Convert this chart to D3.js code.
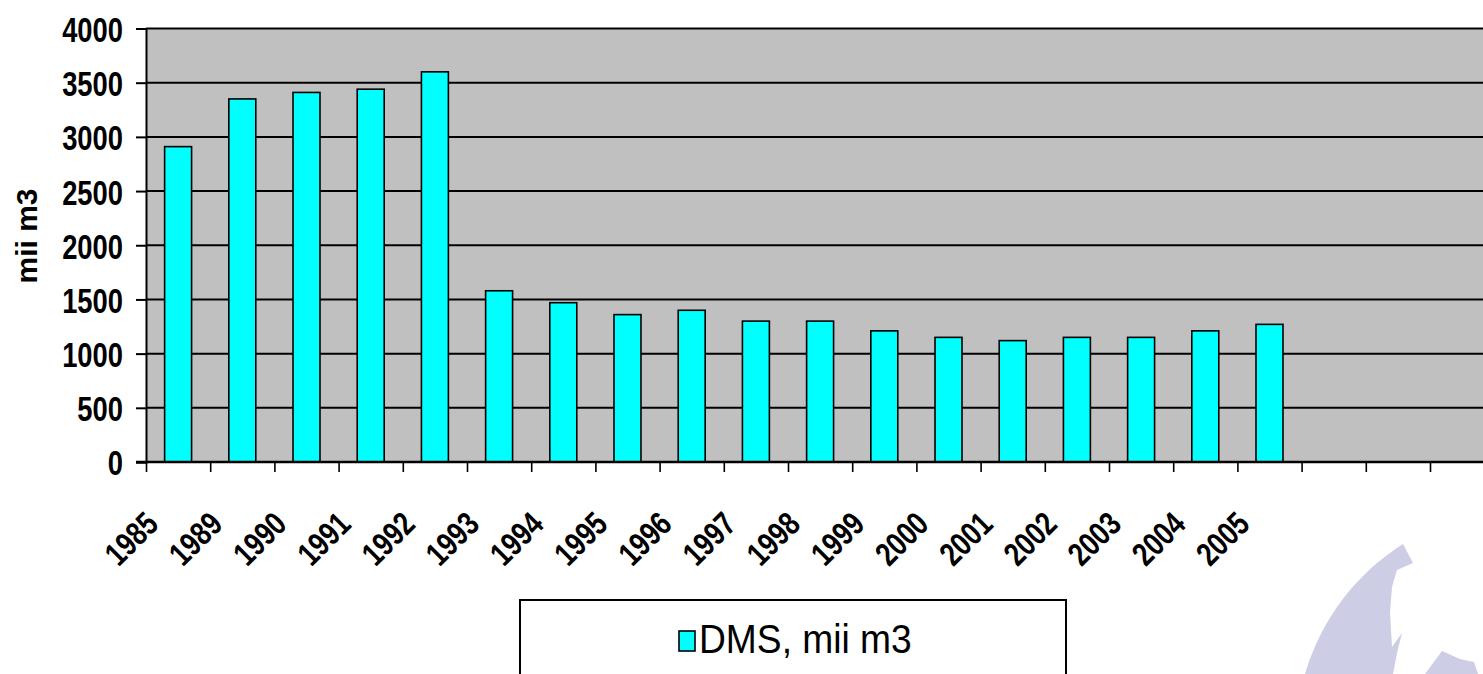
<!DOCTYPE html>
<html>
<head>
<meta charset="utf-8">
<script src="https://cdn.jsdelivr.net/npm/d3@7/dist/d3.min.js"></script>
<style>
  body { margin: 0; background: #fff; overflow: hidden; }
  text { font-family: 'Liberation Sans', Arial, sans-serif; }
</style>
</head>
<body>
<div id="chart"></div>
<script>
// values (mii m3)
const years = ['1985','1989','1990','1991','1992','1993','1994','1995','1996',
               '1997','1998','1999','2000','2001','2002','2003','2004','2005']
const dms = [2910, 3350, 3410, 3440, 3600, 1580, 1470, 1360, 1400,
             1300, 1300, 1210, 1150, 1120, 1150, 1150, 1210, 1270]
const emptySlots = 3   // the axis keeps going with blank categories
const yTicks = [0, 500, 1000, 1500, 2000, 2500, 3000, 3500, 4000]
const yTitle = 'mii m3'
const legendLabel = 'DMS, mii m3'

const W = 1483, H = 674
const margin = { top: 28.5, left: 146 }
const step = 64.2
const nSlots = years.length + emptySlots
const width = step * nSlots
const height = 433.5

const svg = d3.select('#chart')
    .append('svg')
    .attr('width', W)
    .attr('height', H)

// decorative globe piece bottom right
svg.append('path')
    .attr('d', 'M1305,674 C1322,618 1356,574 1403,544 L1413,563 L1397,570 L1392,587 L1390,613 L1392,647 L1402,633 L1397,653 L1393,674 Z' +
               ' M1425,674 L1442,651 L1460,659 L1474,662 L1478,674 Z')
    .attr('fill', '#cdcde6')

const g = svg.append('g')
    .attr('transform', `translate(${margin.left}, ${margin.top})`)

const xScale = d3.scaleBand()
    .domain(d3.range(nSlots))
    .range([0, width])
    .paddingInner(0.58)
    .paddingOuter(0.29)
const xEdge = d3.scaleLinear()
    .domain([0, nSlots])
    .range([0, width])
const yScale = d3.scaleLinear()
    .domain([0, 4000])
    .range([height, 0])

// plot background
g.append('rect')
    .attr('width', width)
    .attr('height', height)
    .attr('fill', '#c0c0c0')

// gridlines
g.append('g')
    .selectAll('line')
    .data(yTicks.filter(d => d > 0))
    .join('line')
    .attr('x1', 0)
    .attr('x2', width)
    .attr('y1', d => yScale(d))
    .attr('y2', d => yScale(d))
    .attr('stroke', '#000')
    .attr('stroke-width', 2)

// bars
g.append('g')
    .selectAll('rect')
    .data(dms)
    .join('rect')
    .attr('x', (d, i) => xScale(i))
    .attr('y', d => yScale(d))
    .attr('width', xScale.bandwidth())
    .attr('height', d => height - yScale(d))
    .attr('fill', '#00ffff')
    .attr('stroke', '#000')
    .attr('stroke-width', 1.6)

// y axis
const yAxis = g.append('g')
    .call(d3.axisLeft(yScale).tickValues(yTicks).tickSize(10).tickFormat(d3.format('d')))
yAxis.select('.domain').attr('stroke-width', 2)
yAxis.selectAll('.tick line').attr('stroke-width', 2)
// condensed look: squeeze the glyphs horizontally
yAxis.selectAll('.tick text')
    .attr('x', 0)
    .attr('dy', '0.36em')
    .attr('transform', 'translate(-23, 0) scale(0.76, 1)')
    .attr('font-size', 36)
    .attr('font-weight', 'bold')
    .attr('font-family', "'Liberation Sans', Arial, sans-serif")
    .attr('fill', '#000')

// x axis, ticks between categories
const xAxis = g.append('g')
    .attr('transform', `translate(0, ${height})`)
    .call(d3.axisBottom(xEdge).tickValues(d3.range(nSlots + 1)).tickSize(10).tickFormat(''))
xAxis.select('.domain').attr('stroke-width', 2.5).attr('d', `M-10,0H${width}`)
xAxis.selectAll('.tick line').attr('stroke-width', 1.6)

g.append('g')
    .selectAll('text')
    .data(years)
    .join('text')
    .attr('font-size', 33)
    .attr('font-weight', 'bold')
    .attr('text-anchor', 'end')
    .attr('transform', (d, i) => `translate(${xScale(i) + xScale.bandwidth() / 2 - 18}, ${height + 64}) rotate(-45) scale(0.8, 1)`)
    .text(d => d)

// y title
svg.append('text')
    .attr('transform', 'translate(37, 236) rotate(-90)')
    .attr('text-anchor', 'middle')
    .attr('font-size', 30)
    .attr('font-weight', 'bold')
    .text(yTitle)

// legend
const legend = svg.append('g')
legend.append('rect')
    .attr('x', 520)
    .attr('y', 600)
    .attr('width', 546)
    .attr('height', 90)
    .attr('fill', '#fff')
    .attr('stroke', '#000')
    .attr('stroke-width', 2)
legend.append('rect')
    .attr('x', 679)
    .attr('y', 631)
    .attr('width', 16)
    .attr('height', 20)
    .attr('fill', '#00ffff')
    .attr('stroke', '#000')
    .attr('stroke-width', 1.6)
legend.append('text')
    .attr('transform', 'translate(699, 653) scale(0.93, 1)')
    .attr('font-size', 40)
    .text(legendLabel)
</script>
</body>
</html>
